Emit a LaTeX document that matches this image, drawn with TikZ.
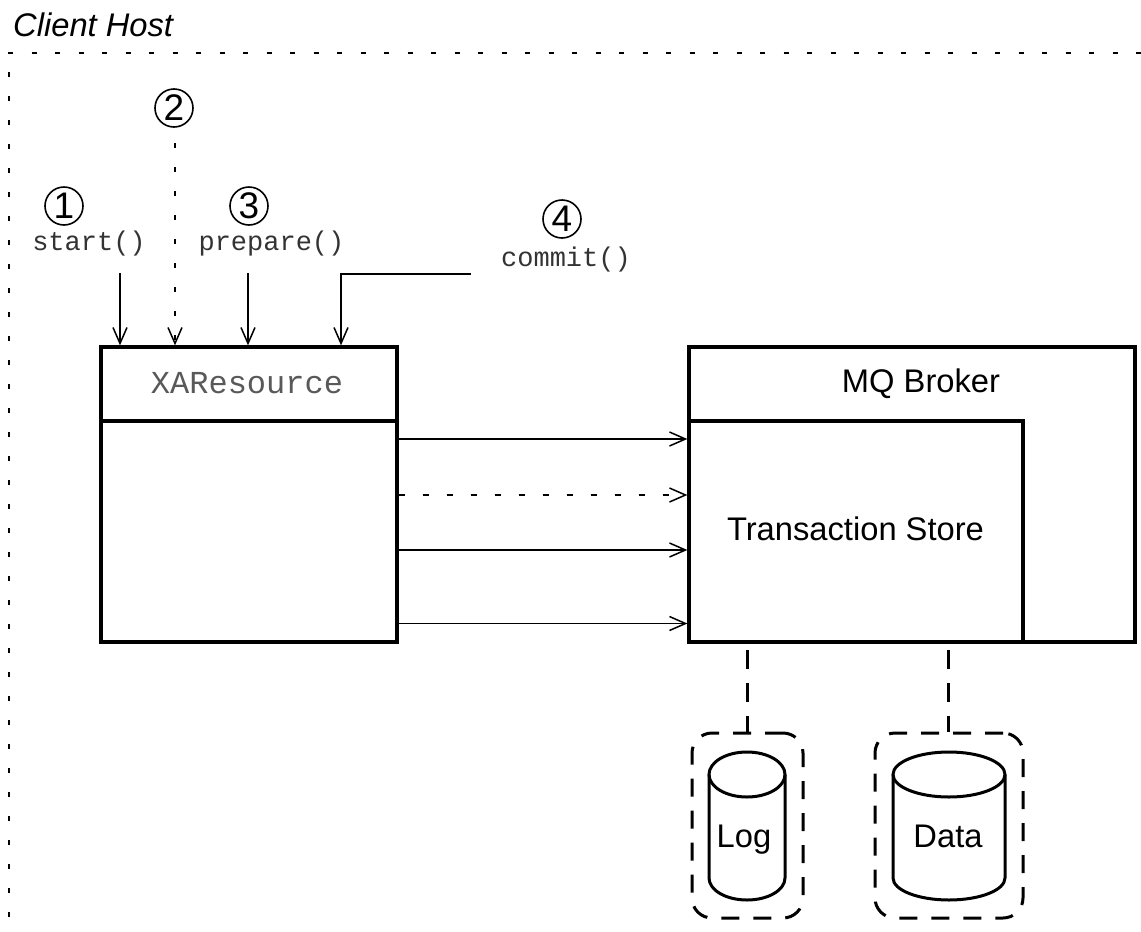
\documentclass[tikz,border=0pt]{standalone}
\usepackage{fontspec}
\setmainfont{Liberation Sans}
\setmonofont{Liberation Mono}
\usetikzlibrary{arrows.meta}
\begin{document}
\begin{tikzpicture}[x=1pt,y=-1pt,
  box/.style={draw, line width=3.3pt, rectangle, inner sep=0pt},
  arr/.style={line width=1.5pt, -{Straight Barb[length=16pt,width=14pt]}},
  dotarr/.style={arr, dash pattern=on 5pt off 19pt},
  hostline/.style={line width=2.2pt, dash pattern=on 5pt off 18.5pt},
  num/.style={circle, draw, line width=1.6pt, minimum size=38, inner sep=0pt, font=\fontsize{37}{37}\selectfont},
  code/.style={inner sep=0pt, anchor=base, text=black!80, font=\ttfamily\fontsize{27}{27}\selectfont},
  lbl/.style={inner sep=0pt, anchor=base, font=\fontsize{32.7}{32.7}\selectfont},
  store/.style={draw, line width=3pt, dash pattern=on 18pt off 14pt, rounded corners=20pt, rectangle, inner sep=0pt},
  conn/.style={line width=3pt, dash pattern=on 19pt off 14pt},
  cyl/.style={line width=3pt}
]
\useasboundingbox (0,0) rectangle (1141,932);

% client host boundary
\node[inner sep=0pt, anchor=base west, font=\itshape\fontsize{32.7}{32.7}\selectfont] (host) at (13,36) {Client Host};
\draw[hostline] (8,53) -- (1141,53);
\draw[hostline, dash pattern=on 4.5pt off 19.5pt] (9,72) -- (9,932);

% boxes
\node[box, minimum width=296, minimum height=295] (xa) at (249,494.5) {};
\coordinate (div) at (0,421);
\draw[line width=3.3pt] (xa.west |- div) -- (xa.east |- div);
\node[inner sep=0pt, anchor=base, text=black!65, font=\ttfamily\fontsize{32}{32}\selectfont] (xal) at (247,393) {XAResource};

\node[box, minimum width=446, minimum height=295] (broker) at (912,494.5) {};
\node[box, minimum width=334, minimum height=221] (ts) at (856,531.5) {};
\node[lbl] (brokerl) at (921,392) {MQ Broker};
\node[lbl] (tsl) at (855.5,540) {Transaction Store};

% numbers and calls
\node[num] (n1) at (64,206) {1};
\node[num] (n2) at (174,108) {2};
\node[num] (n3) at (249,206) {3};
\node[num] (n4) at (562,219) {4};
\node[code] (c1) at (89,250) {start()};
\node[code] (c3) at (271.5,250) {prepare()};
\node[code] (c4) at (566,266) {commit()};

\coordinate (p1) at (120,273);
\coordinate (p2) at (175,143);
\coordinate (p3) at (248,273);
\coordinate (p4) at (470.5,274);
\coordinate (p4x) at (341,274);
\draw[arr] (p1) -- (p1 |- xa.north);
\draw[dotarr] (p2) -- (p2 |- xa.north);
\draw[arr] (p3) -- (p3 |- xa.north);
\draw[arr] (p4) -- (p4x) -- (p4x |- xa.north);

% calls to transaction store
\draw[arr] (xa.east |- 0,439) -- (ts.west |- 0,439);
\draw[arr, dash pattern=on 6pt off 18pt] (xa.east |- 0,495) -- (ts.west |- 0,495);
\draw[arr] (xa.east |- 0,550) -- (ts.west |- 0,550);
\draw[arr] (xa.east |- 0,623.5) -- (ts.west |- 0,623.5);

% stores
\node[store, minimum width=111, minimum height=185] (logbox) at (747.5,825.5) {};
\node[store, minimum width=148, minimum height=185] (databox) at (949,825.5) {};
\coordinate (lc) at (747,650);
\coordinate (dc) at (948,650);
\draw[conn] (lc) -- (lc |- logbox.north);
\draw[conn] (dc) -- (dc |- databox.north);

\draw[cyl] (747,774.5) ellipse [x radius=38pt, y radius=22.5pt];
\draw[cyl] (709,774.5) -- (709,878) arc[start angle=180, end angle=360, x radius=38pt, y radius=22pt] -- (785,774.5);
\node[lbl] (logl) at (744,847) {Log};

\draw[cyl] (949,774.5) ellipse [x radius=56pt, y radius=22.5pt];
\draw[cyl] (893,774.5) -- (893,878) arc[start angle=180, end angle=360, x radius=56pt, y radius=22pt] -- (1005,774.5);
\node[lbl] (datal) at (948,847) {Data};
\end{tikzpicture}
\end{document}
